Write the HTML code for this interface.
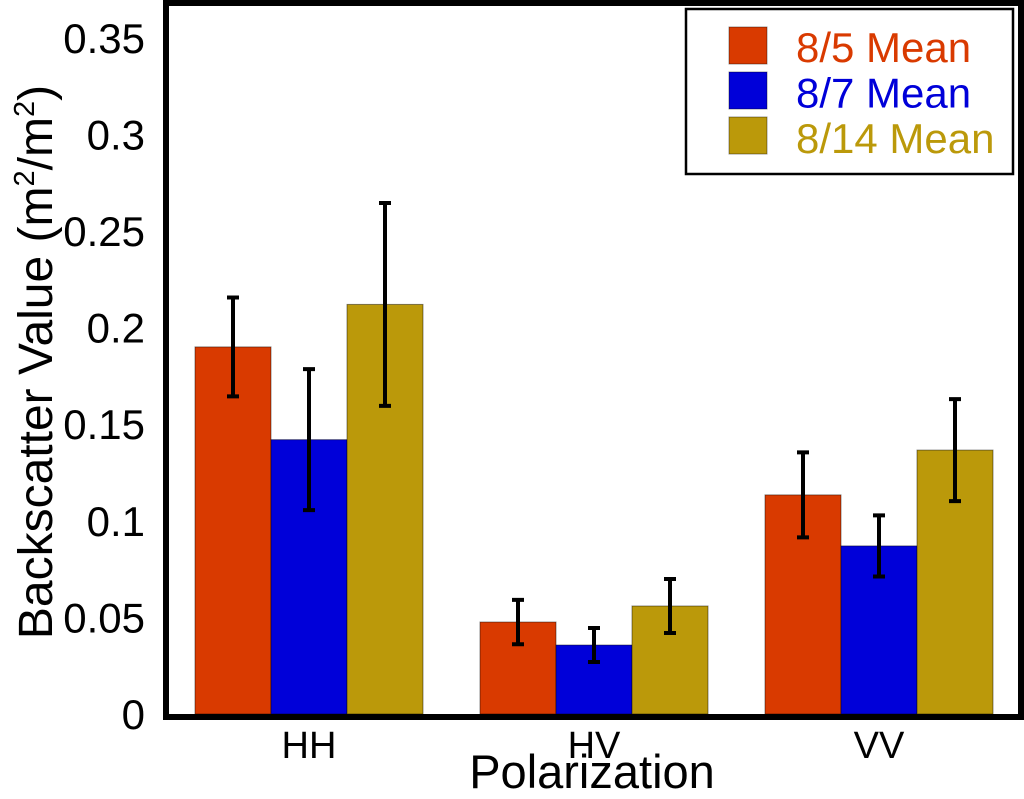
<!DOCTYPE html>
<html><head><meta charset="utf-8"><style>
body{margin:0;background:#fff;width:1024px;height:799px;overflow:hidden}
svg{display:block;font-family:"Liberation Sans",sans-serif}
</style></head><body>
<svg id="chart" width="1024" height="799" viewBox="0 0 1024 799">
<g id="bars"></g>
<g id="errs"></g>
<rect x="166" y="3" width="855" height="714" fill="none" stroke="#000" stroke-width="6"/>
<g id="yticks"></g>
<g id="xticks"></g>
<text x="592" y="788" font-size="47" text-anchor="middle">Polarization</text>
<text transform="translate(52,362) rotate(-90)" font-size="48" text-anchor="middle">Backscatter Value (m<tspan font-size="29" dy="-18">2</tspan><tspan dy="18">/m</tspan><tspan font-size="29" dy="-18">2</tspan><tspan dy="18">)</tspan></text>
<g>
<rect x="686" y="9" width="327" height="165" fill="#fff" stroke="#000" stroke-width="2.5"/>
<g id="legend"></g>
</g>
</svg>
<script>
const categories=["HH","HV","VV"];
const seriesNames=["8/5 Mean","8/7 Mean","8/14 Mean"];
const colors=["#d93a00","#0000d9","#bb990a"];
const means5=[0.190,0.0476,0.1134];
const means7=[0.142,0.0357,0.087];
const means14=[0.212,0.0559,0.1366];
const err5=[0.0256,0.0115,0.022];
const err7=[0.0365,0.0088,0.0158];
const err14=[0.0525,0.014,0.0264];
const yTicks=[0,0.05,0.1,0.15,0.2,0.25,0.3,0.35];
const yTickLabels=["0","0.05","0.1","0.15","0.2","0.25","0.3","0.35"];
const means=[means5,means7,means14], errs=[err5,err7,err14];
const NS="http://www.w3.org/2000/svg";
const y=v=>714-v*1932;
const groupX=i=>195+i*285;
const barW=76;
function mk(tag,attrs,parent){const e=document.createElementNS(NS,tag);for(const k in attrs)e.setAttribute(k,attrs[k]);parent.appendChild(e);return e;}
const gb=document.getElementById('bars'),ge=document.getElementById('errs');
categories.forEach((c,i)=>{
 means.forEach((s,j)=>{
  const x=groupX(i)+j*barW;
  const r=mk('rect',{x:x,y:y(s[i]),width:barW,height:714-y(s[i]),fill:colors[j],stroke:'rgba(0,0,0,0.45)','stroke-width':1},gb);
  
  
  const cx=x+barW/2,hi=y(s[i]+errs[j][i]),lo=y(s[i]-errs[j][i]);
  const p=mk('path',{d:`M${cx},${hi}V${lo}M${cx-6},${hi}H${cx+6}M${cx-6},${lo}H${cx+6}`,stroke:'#000','stroke-width':4,fill:'none'},ge);
  
  
 });
 const t=mk('text',{x:groupX(i)+barW*1.5,y:758,'font-size':38,'text-anchor':'middle'},document.getElementById('xticks'));
 t.textContent=c;
 
 
});
yTicks.forEach((v,i)=>{
 const t=mk('text',{x:145,y:y(v)+15,'font-size':42,'text-anchor':'end'},document.getElementById('yticks'));
 t.textContent=yTickLabels[i];
 
 
});
const gl=document.getElementById('legend');
seriesNames.forEach((n,j)=>{
 const r=mk('rect',{x:729,y:27+j*45,width:38,height:37,fill:colors[j],stroke:'rgba(0,0,0,0.4)','stroke-width':1},gl);
 
 
 const t=mk('text',{x:796,y:62+j*45.5,'font-size':42,fill:colors[j]},gl);
 t.textContent=n;
 
 
});
</script>
</body></html>
